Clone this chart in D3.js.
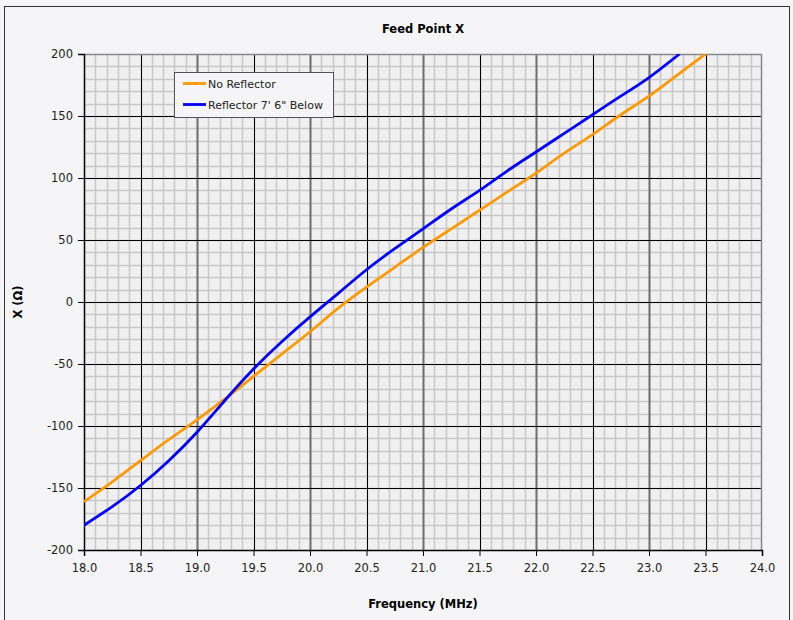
<!DOCTYPE html>
<html>
<head>
<meta charset="utf-8">
<script src="https://cdn.jsdelivr.net/npm/d3@7"></script>
<style>
  body { margin: 0; background: #f5f5f7; }
  svg { display: block; font-family: "DejaVu Sans", Verdana, sans-serif; }
</style>
</head>
<body>
<svg width="793" height="620"></svg>
<script>
// feed point reactance vs frequency

var freqNoRefl = [18.0, 18.25, 18.5, 18.75, 19.0, 19.25, 19.5, 19.75, 20.0, 20.25, 20.5, 20.75, 21.0, 21.25, 21.5, 21.75, 22.0, 22.25, 22.5, 22.75, 23.0, 23.25, 23.5];
var xNoRefl    = [-161, -145, -128, -111, -95, -78, -60, -42, -24, -5, 12, 28, 44, 59, 74, 89, 104, 120, 135, 151, 166, 183, 200];

var freqRefl = [18.0, 18.25, 18.5, 18.75, 19.0, 19.25, 19.5, 19.75, 20.0, 20.25, 20.5, 20.75, 21.0, 21.25, 21.5, 21.75, 22.0, 22.25, 22.5, 22.75, 23.0, 23.27];
var xRefl    = [-180, -165, -148, -128, -105, -79, -54, -32, -12, 7, 26, 43, 59, 75, 90, 106, 121, 136, 151, 166, 181, 200];

var seriesNames = ["No Reflector", "Reflector 7' 6\" Below"];
var seriesColors = ["#ff9900", "#0000ff"];

var xTicks = d3.range(18, 24.001, 0.5);
var yTicks = d3.range(-200, 200.001, 50);

var svg = d3.select("svg"),
    margin = { top: 54, right: 31, bottom: 70, left: 84 },
    width = +svg.attr("width") - margin.left - margin.right,
    height = +svg.attr("height") - margin.top - margin.bottom;

// outer frame
svg.append("rect")
    .attr("x", 4.5).attr("y", 6.5)
    .attr("width", 785).attr("height", 620)
    .attr("fill", "#f5f5f7")
    .attr("stroke", "#333");

var g = svg.append("g").attr("transform", "translate(" + margin.left + "," + margin.top + ")");

var x = d3.scaleLinear().domain([18, 24]).range([0, width]);
var y = d3.scaleLinear().domain([-200, 200]).range([height, 0]);

g.append("rect")
    .attr("width", width).attr("height", height)
    .attr("fill", "#f0f0f0");

// minor grid
g.append("g").selectAll("line")
    .data(d3.range(18.1, 24, 0.1))
    .enter().append("line")
    .attr("x1", function (d) { return Math.round(x(d)) + 0.5; })
    .attr("x2", function (d) { return Math.round(x(d)) + 0.5; })
    .attr("y1", 0).attr("y2", height)
    .attr("stroke", "#c8c8c8").attr("stroke-width", 1.5);

g.append("g").selectAll("line")
    .data(d3.range(-190, 200, 10))
    .enter().append("line")
    .attr("y1", function (d) { return Math.round(y(d)) + 0.5; })
    .attr("y2", function (d) { return Math.round(y(d)) + 0.5; })
    .attr("x1", 0).attr("x2", width)
    .attr("stroke", "#c8c8c8").attr("stroke-width", 1.5);

// major grid
g.append("g").selectAll("line")
    .data(xTicks.slice(1, -1))
    .enter().append("line")
    .attr("x1", function (d) { return Math.round(x(d)) + 0.5; })
    .attr("x2", function (d) { return Math.round(x(d)) + 0.5; })
    .attr("y1", 0).attr("y2", height)
    .attr("stroke", function (d) { return d % 1 === 0 ? "#707070" : "#000"; })
    .attr("stroke-width", function (d) { return d % 1 === 0 ? 2 : 1; });

g.append("g").selectAll("line")
    .data(yTicks.slice(1, -1))
    .enter().append("line")
    .attr("y1", function (d) { return Math.round(y(d)) + 0.5; })
    .attr("y2", function (d) { return Math.round(y(d)) + 0.5; })
    .attr("x1", 0).attr("x2", width)
    .attr("stroke", "#000");

// plot border top/right
g.append("path")
    .attr("d", "M0.5,0.5H" + (width - 0.5) + "V" + height)
    .attr("fill", "none")
    .attr("stroke", "#888").attr("stroke-width", 1.5);

// axes
var xAxis = g.append("g")
    .attr("transform", "translate(0," + height + ")")
    .call(d3.axisBottom(x).tickValues(xTicks).tickFormat(d3.format(".1f")).tickSize(6).tickPadding(8));

var yAxis = g.append("g")
    .call(d3.axisLeft(y).tickValues(yTicks).tickFormat(function (d) { return String(d); }).tickSize(6).tickPadding(5));

[xAxis, yAxis].forEach(function (a) {
  a.select(".domain").attr("stroke", "#000").attr("stroke-width", 1.5);
  a.selectAll(".tick line").attr("stroke", "#000");
  a.selectAll("text").attr("font-size", 11.5).attr("fill", "#222")
    .attr("font-family", "DejaVu Sans, Verdana, sans-serif");
});

// clip
g.append("clipPath").attr("id", "clip")
  .append("rect").attr("width", width).attr("height", height);

var line = d3.line()
    .x(function (d) { return x(d[0]); })
    .y(function (d) { return y(d[1]); })
    .curve(d3.curveNatural);

var data = [d3.zip(freqNoRefl, xNoRefl), d3.zip(freqRefl, xRefl)];

g.append("g").attr("clip-path", "url(#clip)")
  .selectAll("path")
  .data(data)
  .enter().append("path")
  .attr("d", line)
  .attr("fill", "none")
  .attr("stroke", function (d, i) { return seriesColors[i]; })
  .attr("stroke-width", 2.8);

// legend
var legend = svg.append("g").attr("transform", "translate(174,72)");
legend.append("rect")
    .attr("x", 0.5).attr("y", 0.5)
    .attr("width", 159).attr("height", 45)
    .attr("fill", "#f5f5f7")
    .attr("stroke", "#555");

seriesNames.forEach(function (name, i) {
  legend.append("line")
      .attr("x1", 9).attr("x2", 32)
      .attr("y1", 11.5 + i * 21).attr("y2", 11.5 + i * 21)
      .attr("stroke", seriesColors[i]).attr("stroke-width", 2.8);
  legend.append("text")
      .attr("x", 34).attr("y", 15.5 + i * 21)
      .attr("font-size", 11).attr("fill", "#222")
      .text(name);
});

// titles
svg.append("text")
    .attr("x", margin.left + width / 2).attr("y", 33)
    .attr("text-anchor", "middle")
    .attr("font-size", 11.5).attr("font-weight", "bold")
    .text("Feed Point X");

svg.append("text")
    .attr("x", margin.left + width / 2).attr("y", 608)
    .attr("text-anchor", "middle")
    .attr("font-size", 11.5).attr("font-weight", "bold")
    .text("Frequency (MHz)");

svg.append("text")
    .attr("transform", "translate(22," + (margin.top + height / 2) + ") rotate(-90)")
    .attr("text-anchor", "middle")
    .attr("font-size", 11.5).attr("font-weight", "bold")
    .text("X (Ω)");
</script>
</body>
</html>
